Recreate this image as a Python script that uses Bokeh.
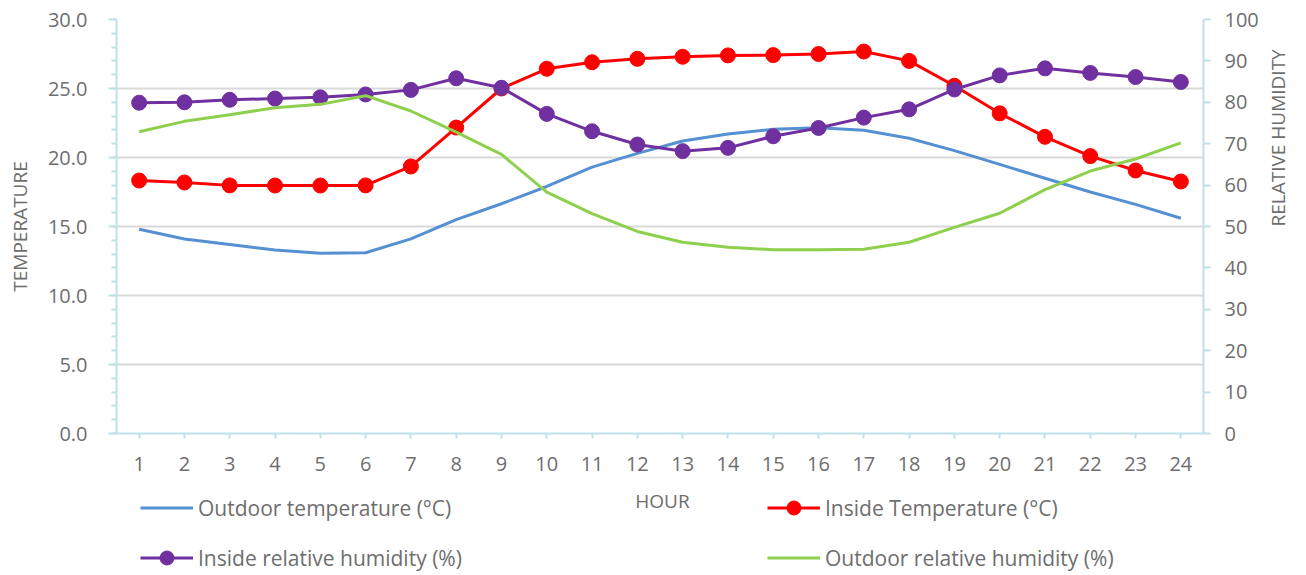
import math
from bokeh.plotting import figure
from bokeh.layouts import column
from bokeh.models import (Range1d, LinearAxis, FixedTicker, PrintfTickFormatter,
                          Legend, LegendItem, Label)
from bokeh.embed import file_html
from bokeh.resources import INLINE

hours = list(range(1, 25))
hour_labels = [str(h) for h in hours]

outdoor_temp = [14.8, 14.1, 13.7, 13.3, 13.07, 13.1, 14.1, 15.5, 16.65, 17.9, 19.3, 20.3,
                21.2, 21.7, 22.05, 22.15, 21.98, 21.4, 20.5, 19.5, 18.5, 17.5, 16.6, 15.6]
inside_temp = [18.33, 18.19, 17.98, 17.97, 17.97, 17.98, 19.35, 22.17, 25.0, 26.43, 26.9, 27.15,
               27.3, 27.4, 27.42, 27.5, 27.68, 27.0, 25.2, 23.2, 21.5, 20.1, 19.06, 18.26]
inside_rh = [79.9, 80.0, 80.6, 80.9, 81.2, 81.9, 83.0, 85.8, 83.5, 77.2, 73.0, 69.8,
             68.2, 69.0, 71.8, 73.8, 76.3, 78.3, 83.1, 86.5, 88.2, 87.1, 86.1, 84.9]
outdoor_rh = [72.9, 75.4, 77.0, 78.7, 79.5, 81.6, 77.9, 72.8, 67.4, 58.3, 53.1, 48.8,
              46.2, 45.0, 44.4, 44.4, 44.5, 46.2, 49.8, 53.2, 58.9, 63.4, 66.3, 70.2]

temp_ticks = [0, 5, 10, 15, 20, 25, 30]
rh_ticks = [0, 10, 20, 30, 40, 50, 60, 70, 80, 90, 100]

series_names = ["Outdoor temperature (°C)", "Inside Temperature (°C)",
                "Inside relative humidity (%)", "Outdoor relative humidity (%)"]
series_colors = ["#5590D3", "#FF0000", "#7030A0", "#8ED04D"]
x_title = "HOUR"

FONT = "Open Sans"
TXT = "#6E6E6E"
AXC = "#BFE1EA"

# ---------------- main chart ----------------
p = figure(width=1306, height=483, output_backend="svg", toolbar_location=None,
           x_range=Range1d(0.5, 24.5), y_range=Range1d(0, 30),
           min_border_left=116, min_border_right=98, min_border_top=19, min_border_bottom=50)
p.outline_line_color = None
p.extra_y_ranges = {"rh": Range1d(0, 100)}

p.xgrid.visible = False
p.ygrid.ticker = FixedTicker(ticks=[5, 10, 15, 20, 25])
p.ygrid.grid_line_color = "#D9D9D9"
p.ygrid.grid_line_width = 2

xa = p.xaxis[0]
xa.ticker = FixedTicker(ticks=hours)
xa.major_label_overrides = {h: l for h, l in zip(hours, hour_labels)}
xa.axis_line_color = AXC
xa.axis_line_width = 2
xa.major_tick_line_color = AXC
xa.major_tick_line_width = 2
xa.major_tick_out = 5
xa.major_tick_in = 0
xa.minor_tick_line_color = None
xa.major_label_standoff = 18

ya = p.yaxis[0]
ya.ticker = FixedTicker(ticks=temp_ticks, minor_ticks=list(range(0, 31)))
ya.formatter = PrintfTickFormatter(format="%.1f")
ya.axis_label = "TEMPERATURE"
ya.axis_line_color = AXC
ya.axis_line_width = 2
ya.major_tick_line_color = AXC
ya.major_tick_line_width = 2
ya.major_tick_out = 8
ya.major_tick_in = 0
ya.minor_tick_line_color = AXC
ya.minor_tick_line_width = 2
ya.minor_tick_out = 5
ya.minor_tick_in = 0
ya.major_label_standoff = 21
ya.axis_label_standoff = 12

ra = LinearAxis(y_range_name="rh", ticker=FixedTicker(ticks=rh_ticks), axis_label="RELATIVE HUMIDITY")
ra.axis_line_color = AXC
ra.axis_line_width = 2
ra.major_tick_line_color = AXC
ra.major_tick_line_width = 2
ra.major_tick_out = 7
ra.major_tick_in = 0
ra.minor_tick_line_color = None
ra.major_label_standoff = 14
ra.axis_label_standoff = 16
if "axis_label_orientation" in ra.properties():
    ra.axis_label_orientation = math.pi / 2
p.add_layout(ra, "right")

for ax in [xa, ya, ra]:
    ax.major_label_text_font = FONT
    ax.major_label_text_font_size = "20px"
    ax.major_label_text_color = TXT
    ax.axis_label_text_font = FONT
    ax.axis_label_text_font_size = "19px"
    ax.axis_label_text_font_style = "normal"
    ax.axis_label_text_color = TXT

p.line(hours, outdoor_temp, line_color=series_colors[0], line_width=3)
p.line(hours, inside_temp, line_color=series_colors[1], line_width=3)
p.scatter(hours, inside_temp, size=15, fill_color=series_colors[1], line_color=series_colors[1])
p.line(hours, inside_rh, line_color=series_colors[2], line_width=3, y_range_name="rh")
p.scatter(hours, inside_rh, size=15, fill_color=series_colors[2], line_color=series_colors[2], y_range_name="rh")
p.line(hours, outdoor_rh, line_color=series_colors[3], line_width=3, y_range_name="rh")

# ---------------- axis title + legend strip (frame aligned with main frame) ----------------
H2 = 92
p2 = figure(width=1306, height=H2, output_backend="svg", toolbar_location=None,
            x_range=Range1d(0, 1), y_range=Range1d(-1, 0),
            min_border=0, min_border_left=0, min_border_right=0, min_border_top=0, min_border_bottom=0,
            x_axis_type=None, y_axis_type=None)
p2.outline_line_color = None

p2.add_layout(Label(x=546, y=75, x_units="screen", y_units="screen", text=x_title,
                    text_align="center", text_baseline="middle", text_font=FONT,
                    text_font_size="19px", text_color=TXT))

# legend keys: same series, outside this strip's visible range (only the keys show)
k_ot = p2.line(hours, outdoor_temp, line_color=series_colors[0], line_width=3)
k_it_l = p2.line(hours, inside_temp, line_color=series_colors[1], line_width=3)
k_it_m = p2.scatter(hours, inside_temp, fill_color=series_colors[1], line_color=series_colors[1])
k_ir_l = p2.line(hours, inside_rh, line_color=series_colors[2], line_width=3)
k_ir_m = p2.scatter(hours, inside_rh, fill_color=series_colors[2], line_color=series_colors[2])
k_or = p2.line(hours, outdoor_rh, line_color=series_colors[3], line_width=3)

def add_legend(label, renderers, loc):
    lg = Legend(items=[LegendItem(label=label, renderers=renderers)], location=loc,
                padding=0, margin=0, spacing=0, glyph_width=53, glyph_height=35,
                label_standoff=5, border_line_color=None, background_fill_alpha=0,
                label_text_font=FONT, label_text_font_size="21px", label_text_color=TXT)
    p2.add_layout(lg, "center")

add_legend(series_names[0], [k_ot], (24, 50))
add_legend(series_names[1], [k_it_l, k_it_m], (651, 50))
add_legend(series_names[2], [k_ir_l, k_ir_m], (24, 0))
add_legend(series_names[3], [k_or], (651, 0))

layout = column(p, p2, spacing=0)
open("out.html", "w").write(file_html(layout, INLINE))
